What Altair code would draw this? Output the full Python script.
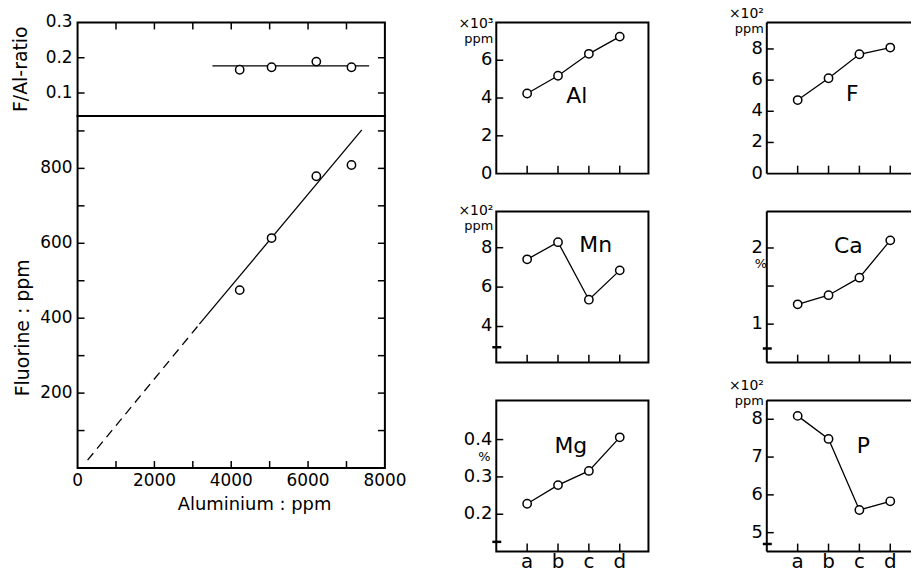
import altair as alt
import pandas as pd

FONT = "DejaVu Sans"
BLACK = "black"

# ---------------- data: left panel ----------------
al_ppm = [4220, 5050, 6215, 7130]
fluorine_ppm = [475, 614, 779, 809]
f_al_ratio = [0.166, 0.173, 0.189, 0.173]
ratio_line_al = [3510, 7590]
ratio_line_val = [0.177, 0.177]
fit_dash_al = [260, 3170]
fit_dash_f = [21, 384]
fit_solid_al = [3170, 7400]
fit_solid_f = [384, 903]

al_x_labels = [0, 2000, 4000, 6000, 8000]
al_x_label_text = ["0", "2000", "4000", "6000", "8000"]
al_x_ticks = [1000, 2000, 3000, 4000, 5000, 6000, 7000]
f_y_labels = [200, 400, 600, 800]
f_y_label_text = ["200", "400", "600", "800"]
f_y_ticks = [100, 200, 300, 400, 500, 600, 700, 800, 900]
ratio_labels = [0.1, 0.2, 0.3]
ratio_label_text = ["0.1", "0.2", "0.3"]
ratio_ticks = [0.1, 0.2]

# ---------------- data: small panels ----------------
sites = ["a", "b", "c", "d"]
site_pos = [1, 2, 3, 4]
al_vals = [4.24, 5.18, 6.34, 7.25]      # x10^3 ppm
f_vals = [4.72, 6.12, 7.66, 8.09]       # x10^2 ppm
mn_vals = [7.41, 8.28, 5.36, 6.85]      # x10^2 ppm
ca_vals = [1.26, 1.38, 1.61, 2.10]      # %
mg_vals = [0.228, 0.278, 0.316, 0.406]  # %
p_vals = [8.09, 7.48, 5.60, 5.83]       # x10^2 ppm

al_ylab = ([0, 2, 4, 6], ["0", "2", "4", "6"])
f_ylab = ([0, 2, 4, 6, 8], ["0", "2", "4", "6", "8"])
mn_ylab = ([4, 6, 8], ["4", "6", "8"])
ca_ylab = ([1, 2], ["1", "2"])
mg_ylab = ([0.2, 0.3, 0.4], ["0.2", "0.3", "0.4"])
p_ylab = ([5, 6, 7, 8], ["5", "6", "7", "8"])

TICK = 7
LW = 1.3


def dummy():
    return pd.DataFrame({"k": [0]})


def text_layer(txt, x, y, size, align="center", baseline="alphabetic", angle=0):
    return alt.Chart(pd.DataFrame({"label": [txt]})).mark_text(
        font=FONT, fontSize=size, align=align, baseline=baseline, angle=angle, color=BLACK
    ).encode(text="label:N", x=alt.value(x), y=alt.value(y))


def extent_rule(x, y):
    return alt.Chart(dummy()).mark_rule(stroke=BLACK, strokeOpacity=0, strokeWidth=0.1).encode(
        x=alt.value(x), y=alt.value(y), y2=alt.value(y + 1))


def yticks_layer(vals, ys, x0, x1):
    return alt.Chart(pd.DataFrame({"t": vals})).mark_rule(color=BLACK, strokeWidth=1.5).encode(
        y=alt.Y("t:Q", scale=ys, axis=None), x=alt.value(x0), x2=alt.value(x1))


def xticks_layer(vals, xs, y0, y1):
    return alt.Chart(pd.DataFrame({"t": vals})).mark_rule(color=BLACK, strokeWidth=1.5).encode(
        x=alt.X("t:Q", scale=xs, axis=None), y=alt.value(y0), y2=alt.value(y1))


def ylabels_layer(vals, texts, ys, x, size):
    return alt.Chart(pd.DataFrame({"t": vals, "s": texts})).mark_text(
        font=FONT, fontSize=size, align="right", baseline="middle", color=BLACK
    ).encode(y=alt.Y("t:Q", scale=ys, axis=None), x=alt.value(x), text="s:N")


def xlabels_layer(vals, texts, xs, y, size):
    return alt.Chart(pd.DataFrame({"t": vals, "s": texts})).mark_text(
        font=FONT, fontSize=size, align="center", baseline="top", color=BLACK
    ).encode(x=alt.X("t:Q", scale=xs, axis=None), y=alt.value(y), text="s:N")


def frame_rule(x, x2, y, y2):
    return alt.Chart(dummy()).mark_rule(color=BLACK, strokeWidth=2).encode(
        x=alt.value(x), x2=alt.value(x2), y=alt.value(y), y2=alt.value(y2))


def circles(df, xf, yf, xs, ys):
    return alt.Chart(df).mark_circle(fill="white", stroke=BLACK, strokeWidth=1.5, size=70, opacity=1).encode(
        x=alt.X(xf, scale=xs, axis=None), y=alt.Y(yf, scale=ys, axis=None))


def line(df, xf, yf, xs, ys, dash=None):
    kw = dict(color=BLACK, strokeWidth=LW)
    if dash is not None:
        kw["strokeDash"] = dash
    return alt.Chart(df).mark_line(**kw).encode(
        x=alt.X(xf, scale=xs, axis=None), y=alt.Y(yf, scale=ys, axis=None))


# ---------------- left column ----------------
LW_W = 309
xs_al = alt.Scale(domain=[0, 8000], nice=False, zero=False)

# ratio panel
RH = 94
ys_ratio = alt.Scale(domain=[0.035, 0.3], nice=False, zero=False)
ratio_df = pd.DataFrame({"al": al_ppm, "r": f_al_ratio})
ratio_line_df = pd.DataFrame({"al": ratio_line_al, "r": ratio_line_val})
ratio_panel = alt.layer(
    line(ratio_line_df, "al:Q", "r:Q", xs_al, ys_ratio),
    circles(ratio_df, "al:Q", "r:Q", xs_al, ys_ratio),
    yticks_layer(ratio_ticks, ys_ratio, 0, TICK),
    yticks_layer(ratio_ticks, ys_ratio, LW_W - TICK, LW_W),
    xticks_layer(al_x_ticks, xs_al, 0, TICK),
    ylabels_layer(ratio_labels, ratio_label_text, ys_ratio, -5, 17),
    text_layer("F/Al-ratio", -57, RH / 2, 19, baseline="middle", angle=270),
    extent_rule(-72, -18),
    extent_rule(LW_W + 24, 20),
).properties(width=LW_W, height=RH)

# fluorine panel
FH = 354
ys_f = alt.Scale(domain=[0, 940], nice=False, zero=False)
f_df = pd.DataFrame({"al": al_ppm, "f": fluorine_ppm})
dash_df = pd.DataFrame({"al": fit_dash_al, "f": fit_dash_f})
solid_df = pd.DataFrame({"al": fit_solid_al, "f": fit_solid_f})
fluor_panel = alt.layer(
    line(dash_df, "al:Q", "f:Q", xs_al, ys_f, dash=[9, 6]),
    line(solid_df, "al:Q", "f:Q", xs_al, ys_f),
    circles(f_df, "al:Q", "f:Q", xs_al, ys_f),
    yticks_layer(f_y_ticks, ys_f, 0, TICK),
    yticks_layer(f_y_ticks, ys_f, LW_W - TICK, LW_W),
    xticks_layer(al_x_ticks, xs_al, FH - TICK, FH),
    ylabels_layer(f_y_labels, f_y_label_text, ys_f, -5, 17),
    xlabels_layer(al_x_labels, al_x_label_text, xs_al, FH + 5, 17),
    text_layer("Aluminium : ppm", 178, FH + 42, 18),
    text_layer("Fluorine : ppm", -55, 213, 19, baseline="middle", angle=270),
).properties(width=LW_W, height=FH)

left_col = alt.vconcat(ratio_panel, fluor_panel, spacing=0, bounds="flush")

# ---------------- small panels ----------------
SH = 152


def small(name, vals, ydom, ylab, yticks, brk, W, xmax, bottom_labels, name_xy,
          header=None, pct=None, right_frame=True, ext_right=None, ext_top=None):
    xs = alt.Scale(domain=[0, xmax], nice=False, zero=False)
    ys = alt.Scale(domain=ydom, nice=False, zero=False)
    df = pd.DataFrame({"pos": site_pos, "v": vals})
    layers = [
        line(df, "pos:Q", "v:Q", xs, ys),
        circles(df, "pos:Q", "v:Q", xs, ys),
        yticks_layer(yticks, ys, 0, TICK),
        xticks_layer(site_pos, xs, SH - 8, SH),
        ylabels_layer(ylab[0], ylab[1], ys, -4, 18),
        text_layer(name, name_xy[0], name_xy[1], 22),
        extent_rule(-45, 20),
    ]
    if bottom_labels:
        layers.append(xlabels_layer(site_pos, sites, xs, SH + 1, 20))
    if brk is not None:
        layers.append(alt.Chart(pd.DataFrame({"b": [brk]})).mark_rule(color=BLACK, strokeWidth=2.5).encode(
            y=alt.Y("b:Q", scale=ys, axis=None), x=alt.value(-4), x2=alt.value(5)))
    if header is not None:
        sup, hy, py = header
        layers.append(text_layer("\u00d710" + sup, -3, hy, 14, align="right"))
        layers.append(text_layer("ppm", -3, py, 13, align="right"))
    if pct is not None:
        layers.append(text_layer("%", pct[0], pct[1], 13, baseline="middle"))
    if ext_right is not None:
        layers.append(extent_rule(W + ext_right, 20))
    if ext_top is not None:
        layers.append(extent_rule(0, ext_top))
    props = dict(width=W, height=SH)
    if not right_frame:
        layers += [frame_rule(0, W, 0, 0), frame_rule(0, 0, 0, SH), frame_rule(0, W, SH, SH)]
        props["view"] = alt.ViewBackground(stroke="transparent")
    return alt.layer(*layers).properties(**props)


MW = 153
MX = 4.93
RW = 145
RX = 4.93 * RW / MW
EXT_MID = 31

al_panel = small("Al", al_vals, [0, 8], al_ylab, [2, 4, 6], None, MW, MX, False, (81, 81),
                 header=("\u00b3", 6, 21), ext_right=EXT_MID, ext_top=-17)
mn_panel = small("Mn", mn_vals, [2.17, 9.84], mn_ylab, [4, 6, 8], 2.95, MW, MX, False, (100, 41),
                 header=("\u00b2", 4, 19), ext_right=EXT_MID)
mg_panel = small("Mg", mg_vals, [0.1, 0.505], mg_ylab, [0.2, 0.3, 0.4], 0.126, MW, MX, True,
                 (75, 53), pct=(-12, 57), ext_right=EXT_MID)

f_panel = small("F", f_vals, [0, 9.7], f_ylab, [2, 4, 6, 8], None, RW, RX, False, (86, 79),
                header=("\u00b2", -4, 11), right_frame=False, ext_top=-17)
ca_panel = small("Ca", ca_vals, [0.495, 2.48], ca_ylab, [1, 1.5, 2], 0.68, RW, RX, False, (82, 42),
                 pct=(-6, 53), right_frame=False)
p_panel = small("P", p_vals, [4.5, 8.5], p_ylab, [5, 6, 7, 8], 4.7, RW, RX, True, (97, 53),
                header=("\u00b2", -10, 5), right_frame=False)

mid_col = alt.vconcat(al_panel, mn_panel, mg_panel, spacing=38, bounds="flush")
right_col = alt.vconcat(f_panel, ca_panel, p_panel, spacing=38, bounds="flush")

chart = alt.hconcat(left_col, mid_col, right_col, spacing=41).properties(
    padding={"left": 5, "top": 2, "right": 0, "bottom": 0},
    background="white",
).configure_view(stroke=BLACK, strokeWidth=2)

chart.save("out.html", embed_options={"renderer": "svg", "actions": False})
